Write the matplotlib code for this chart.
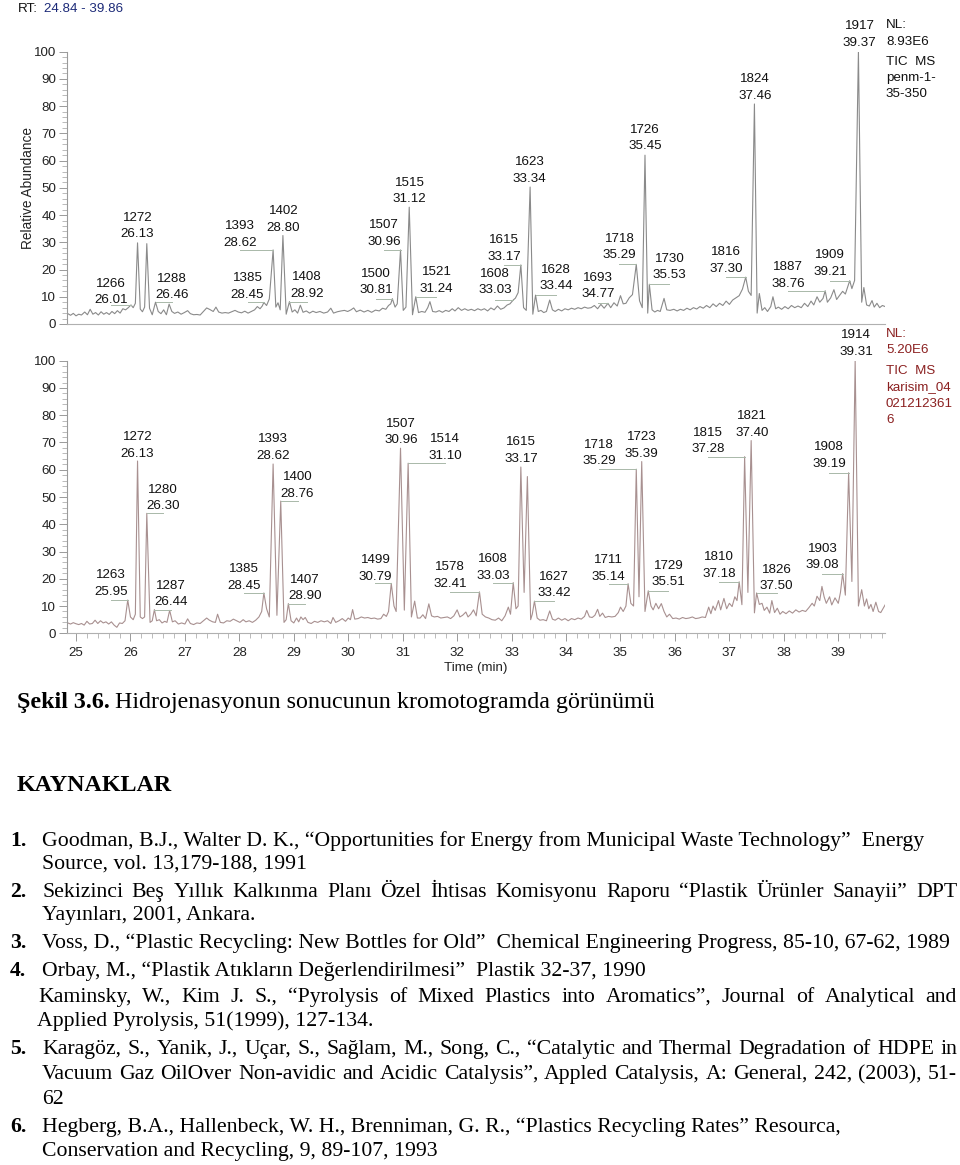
import numpy as np
import matplotlib
matplotlib.use("Agg")
import matplotlib.pyplot as plt
from matplotlib.ticker import MultipleLocator

# chromatogram traces (time in min, relative abundance %)
top_rt = [24.85, 24.90, 24.95, 25.00, 25.05, 25.10, 25.16, 25.21, 25.26, 25.31, 25.36, 25.41,
          25.46, 25.51, 25.56, 25.61, 25.66, 25.71, 25.76, 25.81, 25.86, 25.91, 25.96, 26.01,
          26.05, 26.09, 26.13, 26.18, 26.22, 26.26, 26.30, 26.35, 26.40, 26.46, 26.51, 26.56,
          26.61, 26.66, 26.71, 26.76, 26.81, 26.87, 26.93, 26.99, 27.05, 27.10, 27.16, 27.22,
          27.28, 27.34, 27.40, 27.46, 27.52, 27.57, 27.62, 27.68, 27.74, 27.80, 27.86, 27.92,
          27.98, 28.04, 28.10, 28.16, 28.22, 28.28, 28.33, 28.38, 28.42, 28.45, 28.50, 28.55,
          28.62, 28.67, 28.71, 28.75, 28.80, 28.86, 28.92, 28.97, 29.02, 29.07, 29.12, 29.17,
          29.23, 29.29, 29.35, 29.41, 29.48, 29.55, 29.62, 29.68, 29.73, 29.80, 29.87, 29.93,
          29.99, 30.05, 30.10, 30.15, 30.22, 30.29, 30.36, 30.43, 30.50, 30.57, 30.63, 30.69,
          30.74, 30.78, 30.81, 30.86, 30.90, 30.96, 31.01, 31.06, 31.12, 31.18, 31.24, 31.29,
          31.35, 31.41, 31.46, 31.50, 31.55, 31.61, 31.67, 31.73, 31.79, 31.85, 31.91, 31.96,
          32.02, 32.08, 32.14, 32.20, 32.26, 32.32, 32.38, 32.44, 32.50, 32.56, 32.62, 32.68,
          32.74, 32.80, 32.86, 32.92, 32.97, 33.03, 33.07, 33.12, 33.17, 33.22, 33.27, 33.34,
          33.39, 33.44, 33.49, 33.54, 33.59, 33.64, 33.70, 33.75, 33.80, 33.86, 33.92, 33.98,
          34.04, 34.10, 34.16, 34.22, 34.28, 34.34, 34.40, 34.46, 34.52, 34.58, 34.64, 34.70,
          34.77, 34.82, 34.88, 34.94, 35.00, 35.05, 35.10, 35.16, 35.22, 35.29, 35.35, 35.40,
          35.45, 35.50, 35.53, 35.58, 35.63, 35.68, 35.73, 35.80, 35.85, 35.91, 35.98, 36.04,
          36.10, 36.16, 36.22, 36.28, 36.34, 36.40, 36.46, 36.52, 36.58, 36.64, 36.70, 36.76,
          36.82, 36.88, 36.94, 37.00, 37.06, 37.12, 37.18, 37.24, 37.30, 37.35, 37.40, 37.46,
          37.51, 37.55, 37.60, 37.65, 37.70, 37.76, 37.80, 37.85, 37.90, 37.96, 38.02, 38.08,
          38.14, 38.20, 38.26, 38.32, 38.38, 38.44, 38.50, 38.55, 38.61, 38.66, 38.72, 38.76,
          38.80, 38.86, 38.92, 38.97, 39.02, 39.08, 39.13, 39.18, 39.21, 39.25, 39.30, 39.37,
          39.43, 39.47, 39.52, 39.57, 39.62, 39.66, 39.71, 39.76, 39.81, 39.86]
top_ab = [3.8, 3.2, 3.9, 3.0, 3.6, 3.3, 4.4, 3.4, 5.4, 3.6, 4.2, 3.3,
          4.5, 3.6, 4.2, 3.5, 4.6, 3.8, 4.9, 4.0, 5.6, 5.2, 6.0, 7.0,
          6.0, 7.6, 29.8, 5.5, 4.5, 6.2, 29.5, 5.8, 3.4, 8.0, 4.6, 3.8,
          5.2, 3.4, 7.3, 4.6, 3.9, 4.4, 3.6, 4.2, 4.9, 3.8, 3.4, 3.5,
          3.3, 4.6, 5.9, 5.3, 4.6, 6.2, 4.4, 4.0, 4.2, 4.0, 4.5, 5.0,
          4.4, 4.1, 4.7, 4.0, 4.6, 5.2, 6.4, 5.6, 6.6, 7.9, 6.8, 9.2,
          27.2, 6.2, 7.8, 5.2, 32.5, 3.6, 8.2, 4.4, 5.2, 4.0, 6.9, 4.3,
          4.8, 4.0, 4.7, 4.2, 4.6, 4.0, 4.4, 5.8, 4.0, 4.5, 4.8, 5.0,
          4.6, 5.2, 5.9, 4.5, 5.1, 4.4, 5.0, 4.3, 5.1, 4.8, 5.8, 5.4,
          6.8, 7.4, 9.3, 6.2, 7.4, 27.2, 5.0, 6.2, 42.9, 3.4, 10.0, 4.2,
          4.6, 4.3, 6.0, 8.2, 4.6, 4.4, 4.9, 4.3, 5.0, 4.6, 5.6, 4.8,
          6.0, 5.0, 5.6, 5.0, 5.4, 4.9, 5.6, 5.1, 5.6, 4.8, 5.9, 5.2,
          6.6, 5.4, 5.9, 7.0, 7.4, 8.8, 9.5, 11.5, 21.7, 6.0, 5.0, 50.3,
          3.6, 10.6, 4.6, 5.0, 4.2, 4.6, 8.8, 5.2, 4.6, 5.4, 4.8, 5.6,
          5.2, 5.8, 5.4, 6.0, 5.6, 6.2, 5.8, 6.0, 6.8, 5.6, 7.2, 5.8,
          7.6, 6.0, 7.8, 6.6, 10.4, 7.4, 7.6, 9.6, 10.8, 21.9, 8.5, 6.0,
          62.0, 4.0, 14.6, 5.2, 4.4, 5.0, 4.6, 9.4, 5.2, 5.0, 5.4, 4.8,
          5.4, 5.0, 5.8, 5.2, 6.0, 5.5, 6.4, 5.8, 6.8, 6.0, 7.4, 6.4,
          7.6, 6.8, 8.4, 7.2, 8.8, 9.6, 10.4, 12.8, 17.2, 12.0, 10.5, 80.8,
          4.0, 11.2, 5.0, 6.0, 4.6, 6.4, 10.0, 5.6, 6.2, 5.4, 6.4, 5.6,
          6.8, 6.0, 6.6, 6.0, 7.6, 6.4, 8.4, 7.0, 10.0, 8.0, 9.4, 12.2,
          8.0, 9.6, 12.6, 9.0, 10.4, 12.0, 11.0, 14.0, 15.9, 13.0, 16.0, 100.0,
          8.0, 13.4, 7.0, 6.6, 8.6, 6.2, 7.6, 6.0, 6.8, 6.4]

bot_rt = [24.85, 24.90, 24.95, 25.00, 25.05, 25.10, 25.15, 25.20, 25.25, 25.30, 25.35, 25.40,
          25.45, 25.50, 25.55, 25.60, 25.65, 25.70, 25.75, 25.80, 25.85, 25.90, 25.95, 26.00,
          26.05, 26.09, 26.13, 26.18, 26.22, 26.26, 26.30, 26.36, 26.40, 26.44, 26.48, 26.53,
          26.58, 26.63, 26.67, 26.72, 26.77, 26.82, 26.88, 26.94, 27.00, 27.05, 27.10, 27.16,
          27.22, 27.28, 27.34, 27.40, 27.45, 27.51, 27.56, 27.60, 27.65, 27.71, 27.77, 27.83,
          27.89, 27.95, 28.01, 28.07, 28.12, 28.18, 28.24, 28.30, 28.36, 28.41, 28.45, 28.50,
          28.55, 28.62, 28.69, 28.76, 28.82, 28.86, 28.90, 28.95, 29.00, 29.05, 29.09, 29.13,
          29.17, 29.21, 29.26, 29.32, 29.38, 29.44, 29.50, 29.56, 29.62, 29.68, 29.72, 29.77,
          29.83, 29.89, 29.95, 30.00, 30.04, 30.08, 30.12, 30.18, 30.24, 30.30, 30.36, 30.42,
          30.48, 30.54, 30.60, 30.65, 30.70, 30.74, 30.79, 30.84, 30.88, 30.96, 31.03, 31.10,
          31.16, 31.22, 31.27, 31.32, 31.37, 31.42, 31.48, 31.53, 31.58, 31.64, 31.70, 31.76,
          31.82, 31.88, 31.94, 32.00, 32.05, 32.10, 32.16, 32.20, 32.25, 32.30, 32.35, 32.41,
          32.46, 32.52, 32.58, 32.64, 32.70, 32.76, 32.82, 32.88, 32.94, 32.98, 33.03, 33.08,
          33.12, 33.17, 33.23, 33.29, 33.35, 33.38, 33.42, 33.47, 33.52, 33.58, 33.64, 33.70,
          33.75, 33.80, 33.86, 33.92, 33.98, 34.04, 34.10, 34.16, 34.22, 34.28, 34.34, 34.38,
          34.43, 34.48, 34.53, 34.58, 34.62, 34.67, 34.72, 34.78, 34.84, 34.90, 34.96, 35.00,
          35.05, 35.10, 35.14, 35.19, 35.24, 35.29, 35.34, 35.39, 35.45, 35.51, 35.56, 35.60,
          35.65, 35.70, 35.75, 35.80, 35.85, 35.90, 35.96, 36.02, 36.08, 36.14, 36.20, 36.26,
          36.32, 36.38, 36.44, 36.50, 36.56, 36.62, 36.66, 36.70, 36.74, 36.80, 36.84, 36.90,
          36.95, 37.00, 37.05, 37.10, 37.14, 37.18, 37.23, 37.28, 37.34, 37.40, 37.46, 37.50,
          37.55, 37.60, 37.64, 37.69, 37.74, 37.78, 37.83, 37.88, 37.93, 37.98, 38.04, 38.10,
          38.16, 38.22, 38.28, 38.34, 38.40, 38.46, 38.52, 38.56, 38.61, 38.66, 38.70, 38.74,
          38.78, 38.84, 38.88, 38.94, 39.00, 39.04, 39.08, 39.13, 39.19, 39.25, 39.31, 39.37,
          39.43, 39.48, 39.52, 39.56, 39.60, 39.64, 39.69, 39.74, 39.78, 39.82, 39.86]
bot_ab = [3.8, 3.4, 3.9, 3.5, 3.2, 3.6, 3.0, 4.4, 3.4, 3.6, 4.8, 3.6,
          4.6, 3.8, 4.2, 3.4, 4.2, 3.0, 2.2, 3.8, 3.6, 4.6, 12.2, 6.0,
          5.0, 7.0, 63.2, 6.0, 5.4, 6.0, 44.0, 4.0, 4.6, 8.7, 4.6, 5.0,
          3.8, 4.4, 4.0, 8.4, 4.2, 4.6, 3.4, 3.8, 3.4, 5.3, 3.6, 3.2,
          3.8, 3.6, 4.6, 5.6, 4.8, 4.2, 4.0, 7.0, 4.0, 3.8, 4.6, 4.4,
          5.2, 4.6, 4.0, 5.0, 4.2, 4.6, 4.0, 4.8, 6.0, 8.0, 14.8, 9.0,
          6.0, 62.1, 6.6, 48.5, 4.0, 5.0, 10.9, 4.6, 3.8, 5.6, 4.2, 6.0,
          5.0, 5.8, 4.0, 3.6, 4.4, 4.0, 4.6, 4.2, 4.6, 3.6, 5.8, 4.0,
          4.6, 5.4, 4.4, 5.6, 5.0, 8.7, 5.2, 5.4, 6.0, 5.6, 5.8, 5.4,
          5.6, 5.2, 5.4, 7.0, 6.2, 8.0, 18.3, 10.0, 8.0, 67.9, 8.5, 62.4,
          6.0, 11.8, 5.6, 5.6, 6.8, 5.4, 10.8, 6.4, 6.0, 6.2, 5.6, 5.8,
          6.0, 5.4, 6.4, 8.6, 6.0, 6.6, 7.8, 6.0, 7.0, 8.6, 6.4, 15.2,
          7.0, 6.0, 5.6, 5.0, 4.8, 5.6, 4.6, 6.4, 9.6, 7.0, 18.6, 9.0,
          10.0, 61.0, 15.0, 57.5, 5.0, 7.0, 11.8, 5.6, 4.8, 5.0, 4.6, 8.2,
          5.2, 4.8, 5.6, 4.8, 5.4, 4.6, 5.4, 5.0, 5.6, 5.2, 6.2, 8.4,
          6.0, 5.8, 6.6, 8.8, 6.2, 7.4, 5.8, 6.2, 6.0, 6.2, 7.6, 9.6,
          8.0, 10.0, 18.2, 11.0, 10.0, 60.2, 13.4, 63.0, 8.0, 15.6, 10.0, 8.6,
          11.0, 9.0, 10.9, 8.0, 6.0, 7.0, 5.4, 5.6, 5.2, 5.8, 5.4, 5.6,
          6.0, 5.4, 5.6, 6.0, 5.8, 9.6, 7.2, 10.0, 8.4, 12.0, 8.6, 12.8,
          9.0, 11.0, 9.8, 13.4, 12.0, 18.9, 10.5, 64.8, 15.0, 70.7, 7.5, 14.8,
          10.6, 11.0, 8.4, 9.6, 7.4, 12.0, 7.6, 9.2, 7.0, 8.0, 7.2, 8.2,
          7.4, 8.6, 7.8, 8.4, 8.0, 9.4, 11.0, 10.0, 13.6, 12.0, 17.2, 13.4,
          11.0, 13.4, 10.4, 13.0, 11.0, 15.0, 21.9, 14.0, 58.9, 19.0, 100.0, 10.0,
          16.0, 10.0, 12.6, 9.0, 10.6, 8.0, 11.4, 8.0, 7.6, 9.0, 10.4]

# peak labels: scan number, retention time
top_scan = [1266, 1272, 1288, 1385, 1393, 1402, 1408, 1500, 1507, 1515, 1521, 1608,
            1615, 1623, 1628, 1693, 1718, 1726, 1730, 1816, 1824, 1887, 1909, 1917]
top_peak = [26.01, 26.13, 26.46, 28.45, 28.62, 28.80, 28.92, 30.81, 30.96, 31.12, 31.24, 33.03,
            33.17, 33.34, 33.44, 34.77, 35.29, 35.45, 35.53, 37.30, 37.46, 38.76, 39.21, 39.37]
bot_scan = [1263, 1272, 1280, 1287, 1385, 1393, 1400, 1407, 1499, 1507, 1514, 1578, 1608,
            1615, 1627, 1711, 1718, 1723, 1729, 1810, 1815, 1821, 1826, 1903, 1908, 1914]
bot_peak = [25.95, 26.13, 26.30, 26.44, 28.45, 28.62, 28.76, 28.90, 30.79, 30.96, 31.10, 32.41, 33.03,
            33.17, 33.42, 35.14, 35.29, 35.39, 35.51, 37.18, 37.28, 37.40, 37.50, 39.08, 39.19, 39.31]

# where the labels sit (centre, baseline of the lower line) in data units
top_lab_x = [25.64, 26.13, 26.77, 28.15, 28.01, 28.81, 29.24, 30.51, 30.66, 31.13, 31.62, 32.70,
             32.86, 33.33, 33.82, 34.59, 34.98, 35.45, 35.90, 36.94, 37.47, 38.08, 38.85, 39.39]
top_lab_y = [7.6, 31.8, 9.4, 9.7, 28.8, 34.2, 10.0, 11.3, 29.0, 44.7, 11.9, 11.3,
             23.5, 52.3, 12.7, 9.8, 24.1, 64.2, 16.8, 19.2, 82.6, 13.7, 18.0, 102.1]
bot_lab_x = [25.64, 26.13, 26.60, 26.75, 28.09, 28.62, 29.07, 29.21, 30.50, 30.97, 31.78, 31.87, 32.66,
             33.17, 33.78, 34.78, 34.61, 35.39, 35.88, 36.81, 36.61, 37.41, 37.87, 38.71, 38.83, 39.33]
bot_lab_y = [14.0, 64.8, 45.5, 10.3, 16.4, 63.9, 50.1, 12.4, 19.7, 69.7, 63.9, 17.0, 20.1,
             63.0, 13.6, 19.7, 62.0, 64.8, 17.6, 20.7, 66.4, 72.4, 16.1, 23.8, 61.1, 102.2]

top_info = ["NL:", "8.93E6", "TIC  MS", "penm-1-", "35-350"]
bot_info = ["NL:", "5.20E6", "TIC  MS", "karisim_04", "021212361", "6"]

ref_nums = ["1.", "2.", "3.", "4.", "5.", "6."]
ref_num_y = [846, 897, 948, 976, 1054, 1132]
# (x, baseline y, text, justified)
ref_lines = [
    (42, 846, "Goodman, B.J., Walter D. K., \u201cOpportunities for Energy from Municipal Waste Technology\u201d  Energy", False),
    (42, 869, "Source, vol. 13,179-188, 1991", False),
    (42, 897, "Sekizinci Be\u015f Y\u0131ll\u0131k Kalk\u0131nma Plan\u0131 \u00d6zel \u0130htisas Komisyonu Raporu \u201cPlastik \u00dcr\u00fcnler Sanayii\u201d DPT", True),
    (42, 920, "Yay\u0131nlar\u0131, 2001, Ankara.", False),
    (42, 948, "Voss, D., \u201cPlastic Recycling: New Bottles for Old\u201d  Chemical Engineering Progress, 85-10, 67-62, 1989", False),
    (42, 976, "Orbay, M., \u201cPlastik At\u0131klar\u0131n De\u011ferlendirilmesi\u201d  Plastik 32-37, 1990", False),
    (38, 1002, "Kaminsky, W., Kim J. S., \u201cPyrolysis of Mixed Plastics into Aromatics\u201d, Journal of Analytical and", True),
    (37, 1026, "Applied Pyrolysis, 51(1999), 127-134.", False),
    (42, 1054, "Karag\u00f6z, S., Yanik, J., U\u00e7ar, S., Sa\u011flam, M., Song, C., \u201cCatalytic and Thermal Degradation of HDPE in", True),
    (42, 1079, "Vacuum Gaz OilOver Non-avidic and Acidic Catalysis\u201d, Appled Catalysis, A: General, 242, (2003), 51-", True),
    (42, 1104, "62", False),
    (42, 1132, "Hegberg, B.A., Hallenbeck, W. H., Brenniman, G. R., \u201cPlastics Recycling Rates\u201d Resourca,", False),
    (42, 1156, "Conservation and Recycling, 9, 89-107, 1993", False),
]

W, H = 960, 1165
plt.rcParams['font.family'] = ['Liberation Sans', 'DejaVu Sans']
fig = plt.figure(figsize=(W / 100, H / 100), dpi=100)
FS = 9.6


def fx(px):
    return px / W


def fy(py):
    return 1 - py / H


ax1 = fig.add_axes([fx(67.3), fy(324), 817.8 / W, 272.3 / H])
ax2 = fig.add_axes([fx(67.3), fy(633.3), 817.8 / W, 272.6 / H])


def style_axis(ax, show_x):
    ax.set_xlim(24.84, 39.86)
    ax.set_ylim(0, 100)
    for s in ["top", "right"]:
        ax.spines[s].set_visible(False)
    ax.spines["left"].set_color("#9a9a9a")
    ax.spines["bottom"].set_color("#b0b0b0")
    ax.set_yticks(range(0, 101, 10))
    ax.yaxis.set_minor_locator(MultipleLocator(2))
    ax.tick_params(axis="y", which="major", length=6, width=0.7, color="#9a9a9a",
                   labelsize=FS, pad=2, labelcolor="#222222")
    ax.tick_params(axis="y", which="minor", length=3.5, width=0.6, color="#b0b0b0")
    if show_x:
        ax.set_xticks(range(25, 40))
        ax.xaxis.set_minor_locator(MultipleLocator(0.2))
        ax.tick_params(axis="x", which="major", length=6, width=0.7, color="#9a9a9a",
                       labelsize=FS, pad=4, labelcolor="#222222")
        ax.tick_params(axis="x", which="minor", length=3.5, width=0.6, color="#b0b0b0")
    else:
        ax.set_xticks([])
        ax.xaxis.set_minor_locator(plt.NullLocator())


style_axis(ax1, False)
style_axis(ax2, True)

ax1.plot(top_rt, top_ab, color="#8a8a8a", lw=0.8)
ax2.plot(bot_rt, bot_ab, color="#a89090", lw=0.8)


def put_labels(ax, rt, ab, scans, peaks, lx, ly):
    for sc, pk, x, y in zip(scans, peaks, lx, ly):
        h = np.interp(pk, rt, ab)
        if abs(x - pk) > 0.08:
            ax.plot([x, pk], [h, h], color="#a9b8a9", lw=0.7, clip_on=False)
        ax.text(x, y, "%.2f" % pk, ha="center", va="baseline", fontsize=FS,
                color="#111111", clip_on=False)
        ax.annotate(str(sc), xy=(x, y), xytext=(0, 12), textcoords="offset points",
                    ha="center", va="baseline", fontsize=FS, color="#111111",
                    annotation_clip=False)


put_labels(ax1, top_rt, top_ab, top_scan, top_peak, top_lab_x, top_lab_y)
put_labels(ax2, bot_rt, bot_ab, bot_scan, bot_peak, bot_lab_x, bot_lab_y)

ax2.set_xlabel("Time (min)", fontsize=FS, labelpad=2, color="#222222")

fig.text(fx(18), fy(12), "RT:", fontsize=FS, va="baseline", color="#111111")
fig.text(fx(44), fy(12), "24.84 - 39.86", fontsize=FS, va="baseline", color="#1c2a78")
fig.text(fx(28), fy(188), "Relative Abundance", rotation=90, fontsize=9.8,
         ha="center", va="center", color="#222222")

for t, yb in zip(top_info, [28, 45, 65, 81, 97]):
    fig.text(fx(886), fy(yb), t, fontsize=FS, va="baseline", color="#111111")
for t, yb in zip(bot_info, [337, 353, 374, 390, 407, 423]):
    fig.text(fx(886), fy(yb), t, fontsize=FS, va="baseline", color="#8b2020")

# caption and reference list below the chart
serif = ["Liberation Serif", "DejaVu Serif"]
RS = 15.7
renderer = fig.canvas.get_renderer()

fig.text(fx(17), fy(708), "\u015eekil 3.6.", fontsize=17.3, fontweight="bold",
         family=serif, va="baseline")
fig.text(fx(115), fy(708), "Hidrojenasyonun sonucunun kromotogramda g\u00f6r\u00fcn\u00fcm\u00fc",
         fontsize=17.3, family=serif, va="baseline")
fig.text(fx(17), fy(791), "KAYNAKLAR", fontsize=17.3, fontweight="bold", family=serif,
         va="baseline")

for t, y in zip(ref_nums, ref_num_y):
    fig.text(fx(10), fy(y), t, fontsize=RS, fontweight="bold", family=serif, va="baseline")


def justify(x0, x1, y, text):
    words = text.split()
    arts = [fig.text(0, fy(y), w, fontsize=RS, family=serif, va="baseline") for w in words]
    widths = [a.get_window_extent(renderer).width for a in arts]
    gap = (x1 - x0 - sum(widths)) / (len(words) - 1)
    x = x0
    for a, w in zip(arts, widths):
        a.set_x(fx(x))
        x += w + gap


for x, y, t, just in ref_lines:
    if just:
        justify(x, 957, y, t)
    else:
        fig.text(fx(x), fy(y), t, fontsize=RS, family=serif, va="baseline")

fig.savefig("out.png", dpi=100)
